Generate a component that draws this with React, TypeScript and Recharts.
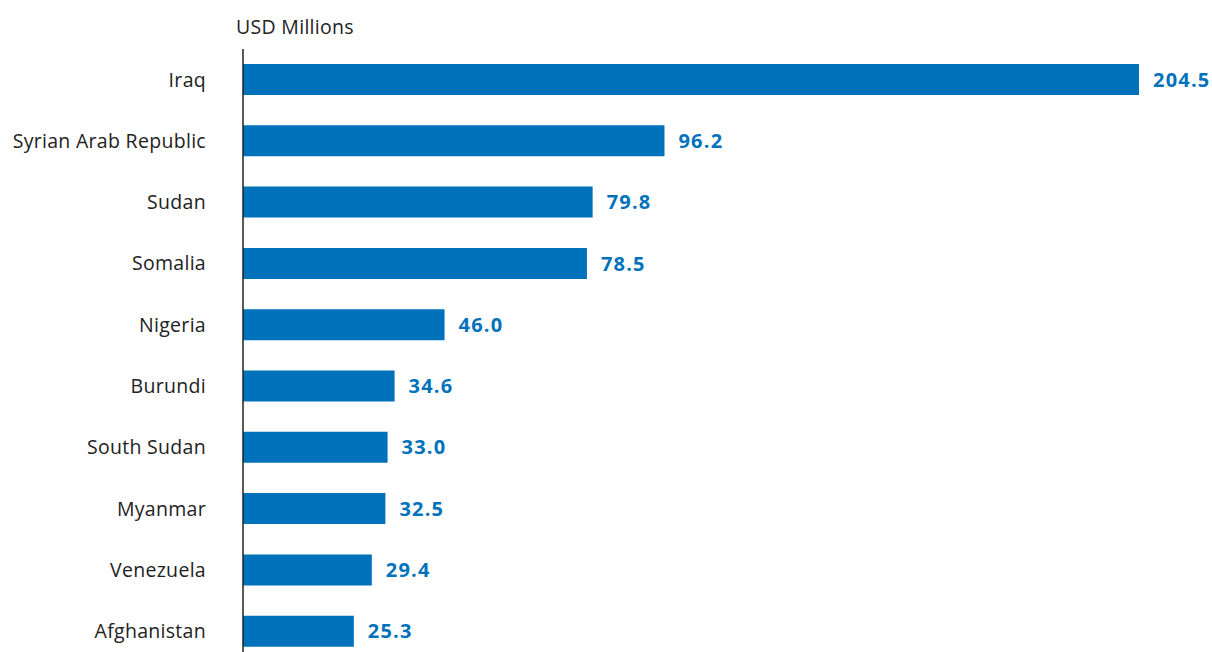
import { BarChart, Bar, XAxis, YAxis, LabelList } from 'recharts'

const countries = [
    "Iraq", "Syrian Arab Republic", "Sudan", "Somalia", "Nigeria",
    "Burundi", "South Sudan", "Myanmar", "Venezuela", "Afghanistan",
]
const funding = [204.5, 96.2, 79.8, 78.5, 46.0, 34.6, 33.0, 32.5, 29.4, 25.3]
const unitLabel = "USD Millions"

const chartData = countries.map((c, i) => ({ country: c, value: funding[i] }))

const FONT = "'Open Sans', Lato, sans-serif"
const BLUE = "#0072bc"

export default function App() {
    return (
        <div style={{ position: 'fixed', left: 0, top: 0, width: 1212, height: 652, overflow: 'hidden', background: '#fff', fontFamily: FONT }}>
            <div style={{ position: 'absolute', left: 236, top: 13, fontSize: 19.5, letterSpacing: 0.3, color: '#222' }}>{unitLabel}</div>
            <BarChart
                width={1212}
                height={665}
                data={chartData}
                layout="vertical"
                margin={{ top: 49, right: 73, bottom: 3, left: 0 }}
                barCategoryGap="50%"
            >
                <XAxis type="number" domain={[0, 204.5]} hide />
                <YAxis
                    type="category"
                    dataKey="country"
                    width={243}
                    tickLine={false}
                    tickSize={0}
                    tickMargin={37}
                    axisLine={{ stroke: '#222', strokeWidth: 1.5 }}
                    tick={{ fill: '#222', fontSize: 19.5, letterSpacing: 0.3, fontFamily: FONT }}
                    interval={0}
                />
                <Bar dataKey="value" fill={BLUE} barSize={31} isAnimationActive={false}>
                    <LabelList
                        dataKey="value"
                        position="right"
                        offset={14}
                        formatter={(v: any) => Number(v).toFixed(1)}
                        style={{ fill: BLUE, fontWeight: 700, fontSize: 20, letterSpacing: 1.2, fontFamily: FONT }}
                    />
                </Bar>
            </BarChart>
        </div>
    )
}
